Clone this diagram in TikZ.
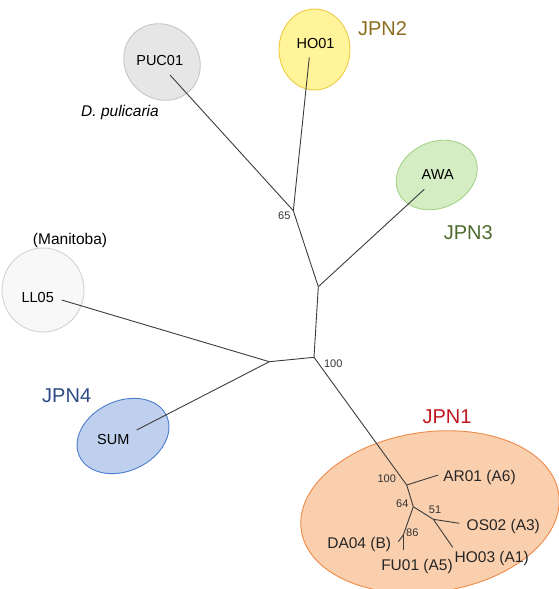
\documentclass[tikz,border=0pt]{standalone}
\usepackage{fontspec}
\setmainfont{Liberation Sans}
\usetikzlibrary{shapes.geometric}
\definecolor{treegray}{HTML}{3C3C3C}
\definecolor{pucfill}{HTML}{E6E6E6}
\definecolor{pucdraw}{HTML}{C6C6C6}
\definecolor{hofill}{HTML}{FFF49A}
\definecolor{hodraw}{HTML}{EECB45}
\definecolor{awafill}{HTML}{D5EDC2}
\definecolor{awadraw}{HTML}{A3D387}
\definecolor{llfill}{HTML}{F8F8F8}
\definecolor{lldraw}{HTML}{D2D2D2}
\definecolor{sumfill}{HTML}{BFD0EE}
\definecolor{sumdraw}{HTML}{4C7DCC}
\definecolor{jpnAfill}{HTML}{F9CFAE}
\definecolor{jpnAdraw}{HTML}{EF8A47}
\definecolor{jpnAtext}{HTML}{C0161F}
\definecolor{jpnBtext}{HTML}{8C6D1F}
\definecolor{jpnCtext}{HTML}{4E6B2E}
\definecolor{jpnDtext}{HTML}{2E4A86}
\begin{document}
\begin{tikzpicture}[x=1pt,y=-1pt,
  branch/.style={draw=treegray, line width=0.9pt},
  blob/.style={ellipse, draw, line width=0.9pt, inner sep=0pt},
  leaflab/.style={font=\fontsize{14.5}{16}\selectfont, inner sep=0pt, text=black},
  innerlab/.style={font=\fontsize{15.5}{17}\selectfont, inner sep=0pt, text=black!85},
  boot/.style={font=\fontsize{11}{12}\selectfont, inner sep=0pt, text=black!80},
  grouplab/.style={font=\fontsize{20}{22}\selectfont, inner sep=0pt},
  notelab/.style={font=\fontsize{15.5}{17}\selectfont, inner sep=0pt}]
\useasboundingbox (0,0) rectangle (559,589);
% group ellipses
\node[blob, fill=pucfill, draw=pucdraw, minimum width=80pt, minimum height=73pt, rotate=-45] (ePUC) at (162,62) {};
\node[blob, fill=hofill, draw=hodraw, minimum width=71pt, minimum height=81pt] (eHO) at (314.5,49.5) {};
\node[blob, fill=awafill, draw=awadraw, minimum width=84pt, minimum height=66pt, rotate=25] (eAWA) at (436.7,175) {};
\node[blob, fill=llfill, draw=lldraw, minimum width=82pt, minimum height=84pt] (eLL) at (43,290) {};
\node[blob, fill=sumfill, draw=sumdraw, minimum width=96pt, minimum height=70pt, rotate=25] (eSUM) at (123,436) {};
\node[blob, fill=jpnAfill, draw=jpnAdraw, minimum width=260pt, minimum height=160pt, rotate=8] (eJPN) at (430,512) {};
% tree coordinates
\coordinate (n65) at (293.3,210.7);
\coordinate (nA) at (318.3,286.7);
\coordinate (n100) at (314,357.3);
\coordinate (nL) at (269.3,361.7);
\coordinate (HOe) at (309.3,57.3);
\coordinate (PUCe) at (170,75);
\coordinate (AWAe) at (424.3,189.3);
\coordinate (LLe) at (61.7,300);
\coordinate (SUMe) at (136.7,430);
\coordinate (j100) at (406.7,485);
\coordinate (ARe) at (438.3,475);
\coordinate (j64) at (413.3,506.7);
\coordinate (j51) at (433.3,519.3);
\coordinate (OSe) at (459.3,523.3);
\coordinate (HO3e) at (452.7,547.3);
\coordinate (j86) at (403.3,535);
\coordinate (DAe) at (398.3,541.7);
\coordinate (FUe) at (403.3,550);
% branches
\draw[branch] (n65) -- (HOe);
\draw[branch] (n65) -- (PUCe);
\draw[branch] (n65) -- (nA);
\draw[branch] (nA) -- (AWAe);
\draw[branch] (nA) -- (n100);
\draw[branch] (n100) -- (nL);
\draw[branch] (nL) -- (LLe);
\draw[branch] (nL) -- (SUMe);
\draw[branch] (n100) -- (j100);
\draw[branch] (j100) -- (ARe);
\draw[branch] (j100) -- (j64);
\draw[branch] (j64) -- (j51);
\draw[branch] (j51) -- (OSe);
\draw[branch] (j51) -- (HO3e);
\draw[branch] (j64) -- (j86);
\draw[branch] (j86) -- (DAe);
\draw[branch] (j86) -- (FUe);
% leaf labels
\node[leaflab] (tPUC) at (159.7,61) {PUC01};
\node[leaflab] (tHO) at (315.5,43.5) {HO01};
\node[leaflab] (tAWA) at (437.7,175) {AWA};
\node[leaflab] (tLL) at (37.7,297.7) {LL05};
\node[leaflab] (tSUM) at (113.3,440) {SUM};
\node[innerlab] (tAR) at (479.5,477) {AR01 (A6)};
\node[innerlab] (tOS) at (503.3,526.5) {OS02 (A3)};
\node[innerlab] (tHO3) at (491.7,558.5) {HO03 (A1)};
\node[innerlab] (tDA) at (359.2,544.5) {DA04 (B)};
\node[innerlab] (tFU) at (417,566.5) {FU01 (A5)};
% bootstrap values
\node[boot] (b65) at (284.3,215.7) {65};
\node[boot] (b100) at (333.3,364) {100};
\node[boot] (b100i) at (386.7,479) {100};
\node[boot] (b64) at (402.3,504) {64};
\node[boot] (b51) at (435,510) {51};
\node[boot] (b86) at (412.3,532.7) {86};
% group labels
\node[grouplab, text=jpnBtext] (gJPN2) at (382.5,28.5) {JPN2};
\node[grouplab, text=jpnCtext] (gJPN3) at (468.3,233) {JPN3};
\node[grouplab, text=jpnDtext] (gJPN4) at (66.7,396) {JPN4};
\node[grouplab, text=jpnAtext] (gJPN1) at (447,417) {JPN1};
% notes
\node[notelab] (nPul) at (120,112) {\itshape D. pulicaria};
\node[notelab] (nMan) at (70,240.5) {(Manitoba)};
\end{tikzpicture}
\end{document}
